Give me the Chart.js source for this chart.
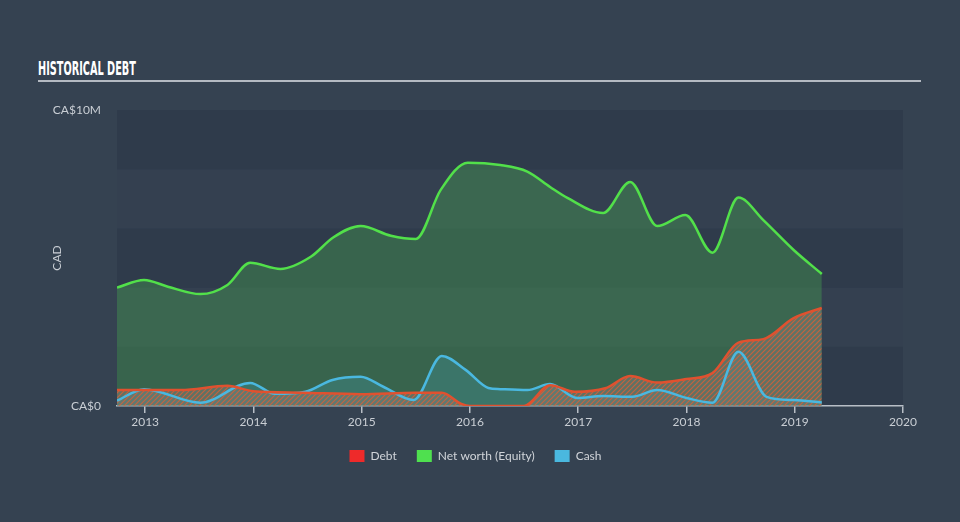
<!DOCTYPE html>
<html>
<head>
<meta charset="utf-8">
<script src="https://cdn.jsdelivr.net/npm/chart.js@4/dist/chart.umd.min.js"></script>
<style>
  html, body { margin: 0; padding: 0; }
  body { width: 960px; height: 522px; background: #354251; overflow: hidden; position: relative; }
  #title {
    position: absolute; left: 38px; top: 57px;
    font-family: "DejaVu Sans Condensed", "DejaVu Sans", sans-serif; font-weight: bold;
    font-size: 19px; color: #ffffff; white-space: nowrap; transform-origin: 0 0;
  }
  #rule { position: absolute; left: 38px; top: 80px; width: 883px; height: 2px; background: #b4bac2; }
  #wrap { position: absolute; left: 0; top: 0; width: 960px; height: 522px; }
</style>
</head>
<body>
<div id="title">HISTORICAL DEBT</div>
<div id="rule"></div>
<div id="wrap"><canvas id="debtChart" width="960" height="522"></canvas></div>
<script>
// values in CA$ millions, dates as decimal years
const debtDates = [2012.74, 2012.99, 2013.33, 2013.76, 2014.0, 2014.44, 2014.99, 2015.50, 2015.74, 2015.92, 2016.0, 2016.5, 2016.74, 2016.97, 2017.25, 2017.48, 2017.73, 2018.0, 2018.24, 2018.48, 2018.71, 2018.99, 2019.25];
const debtValues = [0.54, 0.54, 0.54, 0.68, 0.5, 0.45, 0.4, 0.45, 0.45, 0.07, 0, 0, 0.7, 0.48, 0.6, 1.01, 0.79, 0.91, 1.11, 2.14, 2.26, 2.97, 3.31];

const equityDates = [2012.74, 2012.99, 2013.21, 2013.51, 2013.76, 2013.97, 2014.25, 2014.53, 2014.74, 2014.99, 2015.27, 2015.50, 2015.73, 2015.98, 2016.28, 2016.53, 2016.74, 2016.90, 2017.23, 2017.48, 2017.73, 2017.99, 2018.24, 2018.48, 2018.71, 2018.99, 2019.25];
const equityValues = [4.0, 4.26, 4.03, 3.78, 4.09, 4.84, 4.63, 5.04, 5.7, 6.08, 5.75, 5.64, 7.3, 8.22, 8.14, 7.92, 7.4, 7.03, 6.52, 7.57, 6.08, 6.45, 5.18, 7.04, 6.28, 5.27, 4.46];

const cashDates = [2012.74, 2012.99, 2013.51, 2013.97, 2014.2, 2014.48, 2014.73, 2014.99, 2015.2, 2015.48, 2015.74, 2015.96, 2016.17, 2016.28, 2016.53, 2016.74, 2016.99, 2017.23, 2017.5, 2017.73, 2018.0, 2018.24, 2018.48, 2018.74, 2018.99, 2019.25];
const cashValues = [0.18, 0.57, 0.11, 0.78, 0.41, 0.48, 0.88, 0.99, 0.65, 0.2, 1.69, 1.22, 0.61, 0.57, 0.54, 0.74, 0.27, 0.34, 0.31, 0.54, 0.27, 0.11, 1.83, 0.31, 0.2, 0.12];

const yearTicks = [2013, 2014, 2015, 2016, 2017, 2018, 2019, 2020];
const seriesNames = ['Debt', 'Net worth (Equity)', 'Cash'];
const legendColors = ['#ee2a2a', '#4fe04f', '#4ab8df'];

function toPoints(xs, ys) {
    return xs.map((x, i) => ({ x: x, y: ys[i] }));
}

// Title squeezed to the condensed width of the original
const titleEl = document.getElementById('title');
titleEl.style.transform = 'scaleX(' + (98 / titleEl.offsetWidth) + ')';

// Hatch pattern for the debt area
function makeHatch() {
    const c = document.createElement('canvas');
    c.width = 5; c.height = 5;
    const g = c.getContext('2d');
    g.fillStyle = 'rgba(125,125,120,0.55)';
    g.fillRect(0, 0, 5, 5);
    g.strokeStyle = 'rgba(220,95,55,0.8)';
    g.lineWidth = 1.2;
    g.beginPath();
    g.moveTo(-1, 6); g.lineTo(6, -1);
    g.moveTo(-3.5, 3.5); g.lineTo(3.5, -3.5);
    g.moveTo(1.5, 8.5); g.lineTo(8.5, 1.5);
    g.stroke();
    return g.createPattern(c, 'repeat');
}

// Alternating horizontal bands behind the plot
const bandsPlugin = {
    id: 'bands',
    beforeDraw(chart) {
        const { ctx, chartArea } = chart;
        const y = chart.scales.y;
        const ticks = y.ticks;
        ctx.save();
        for (let i = 0; i < ticks.length - 1; i++) {
            const y0 = y.getPixelForValue(ticks[i].value);
            const y1 = y.getPixelForValue(ticks[i + 1].value);
            ctx.fillStyle = i % 2 === 0 ? '#2f3b4b' : '#344050';
            ctx.fillRect(chartArea.left, y1, chartArea.right - chartArea.left, y0 - y1);
        }
        ctx.restore();
    }
};

const tickFont = { family: 'Lato', size: 12 };
const tickColor = '#c9ced4';

new Chart(document.getElementById('debtChart'), {
    type: 'line',
    data: {
        datasets: [{
            label: seriesNames[0],
            data: toPoints(debtDates, debtValues),
            borderColor: '#e0512f',
            backgroundColor: makeHatch(),
            fill: 'origin',
            order: 1
        }, {
            label: seriesNames[1],
            data: toPoints(equityDates, equityValues),
            borderColor: '#52e04a',
            backgroundColor: 'rgba(68,150,80,0.45)',
            fill: 'origin',
            order: 3
        }, {
            label: seriesNames[2],
            data: toPoints(cashDates, cashValues),
            borderColor: '#4ab8e0',
            backgroundColor: 'rgba(75,184,220,0.2)',
            fill: 'origin',
            order: 2
        }]
    },
    options: {
        responsive: false,
        animation: false,
        layout: { padding: { left: 48, right: 57, top: 110, bottom: 50 } },
        elements: {
            point: { radius: 0 },
            line: { borderWidth: 2.5, cubicInterpolationMode: 'monotone' }
        },
        plugins: {
            filler: { drawTime: 'beforeDatasetsDraw' },
            tooltip: { enabled: false },
            legend: {
                position: 'bottom',
                labels: {
                    boxWidth: 15,
                    boxHeight: 12,
                    padding: 20,
                    color: '#d0d4d9',
                    font: { family: 'Lato', size: 12 },
                    generateLabels: (chart) => seriesNames.map((name, i) => ({
                        text: name,
                        fillStyle: legendColors[i],
                        strokeStyle: legendColors[i],
                        lineWidth: 0,
                        datasetIndex: i,
                        fontColor: '#d0d4d9'
                    }))
                }
            }
        },
        scales: {
            x: {
                type: 'linear',
                min: 2012.74,
                max: 2020,
                afterBuildTicks: (scale) => { scale.ticks = yearTicks.map(v => ({ value: v })); },
                afterFit: (scale) => { scale.height = 24; },
                grid: { drawOnChartArea: false, drawTicks: true, tickLength: 7, color: '#b8bec6', lineWidth: 1.5 },
                border: { display: true, color: '#b8bec6', width: 1.5 },
                ticks: { color: tickColor, font: tickFont, padding: 2, maxRotation: 0, callback: (v) => String(v) }
            },
            y: {
                min: 0,
                max: 10,
                afterFit: (scale) => { scale.width = 69; },
                grid: { display: false },
                border: { display: false },
                title: { display: true, text: 'CAD', color: tickColor, font: tickFont, padding: { top: 2, bottom: 0 } },
                ticks: {
                    stepSize: 2,
                    padding: 8,
                    color: tickColor,
                    font: tickFont,
                    callback: (v) => v === 0 ? 'CA$0' : (v === 10 ? 'CA$10M' : '')
                }
            }
        }
    },
    plugins: [bandsPlugin]
});
</script>
</body>
</html>
